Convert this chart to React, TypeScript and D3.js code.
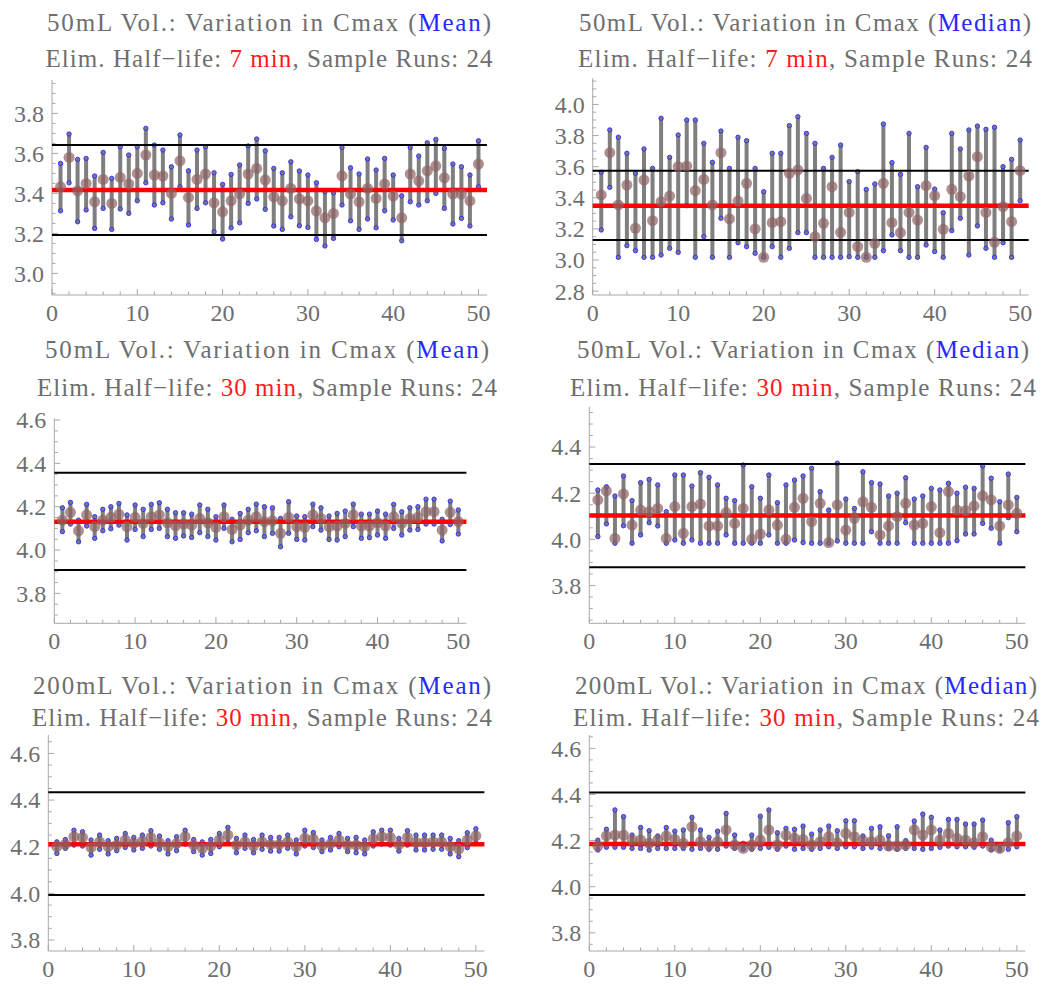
import React from "react";
import * as d3 from "d3";

// ---------- data ----------
const runIndex = d3.range(1, 51);
const X_TICK_LABELS = [0, 10, 20, 30, 40, 50];

// Panel 1: 50mL, 7 min, Mean
const p1Max = [3.55,3.697,3.57,3.575,3.487,3.605,3.475,3.633,3.592,3.633,3.725,3.642,3.617,3.533,3.692,3.513,3.617,3.633,3.503,3.445,3.495,3.542,3.637,3.672,3.613,3.525,3.503,3.558,3.512,3.492,3.453,3.408,3.403,3.63,3.528,3.497,3.572,3.517,3.575,3.492,3.388,3.63,3.587,3.653,3.67,3.625,3.547,3.533,3.492,3.663];
const p1Min = [3.313,3.453,3.258,3.317,3.225,3.325,3.22,3.322,3.3,3.363,3.453,3.342,3.353,3.272,3.433,3.242,3.325,3.353,3.208,3.172,3.228,3.253,3.35,3.372,3.32,3.237,3.22,3.283,3.238,3.23,3.17,3.137,3.175,3.342,3.263,3.22,3.272,3.228,3.313,3.267,3.163,3.358,3.342,3.363,3.4,3.325,3.247,3.275,3.237,3.433];
const p1Ctr = [3.433,3.58,3.413,3.45,3.358,3.47,3.35,3.48,3.447,3.5,3.592,3.492,3.487,3.4,3.563,3.38,3.47,3.497,3.353,3.308,3.363,3.397,3.497,3.525,3.467,3.383,3.363,3.425,3.372,3.363,3.312,3.278,3.3,3.488,3.397,3.358,3.425,3.375,3.447,3.387,3.278,3.497,3.463,3.513,3.537,3.478,3.397,3.397,3.363,3.547];
const p1Ref = [3.417, 3.642, 3.192];
const p1YTicks = [3.0, 3.2, 3.4, 3.6, 3.8];

// Panel 2: 50mL, 7 min, Median
const p2Max = [3.564,3.836,3.789,3.686,3.557,3.714,3.589,3.911,3.66,3.804,3.9,3.9,3.75,3.628,3.829,3.589,3.789,3.767,3.589,3.439,3.686,3.686,3.864,3.921,3.814,3.75,3.589,3.66,3.739,3.504,3.568,3.454,3.489,3.874,3.626,3.551,3.814,3.471,3.724,3.456,3.304,3.814,3.714,3.836,3.861,3.84,3.853,3.6,3.647,3.771];
const p2Min = [3.193,3.467,3.017,3.092,3.06,3.017,3.017,3.032,3.075,3.049,3.349,3.017,3.15,3.017,3.268,3.017,3.111,3.086,3.043,3.017,3.086,3.017,3.075,3.176,3.176,3.017,3.017,3.017,3.017,3.021,3.017,3.017,3.017,3.06,3.161,3.06,3.017,3.017,3.096,3.054,3.017,3.189,3.268,3.032,3.219,3.075,3.017,3.111,3.017,3.381];
const p2Ctr = [3.418,3.69,3.354,3.482,3.204,3.514,3.253,3.375,3.411,3.6,3.604,3.446,3.518,3.354,3.69,3.264,3.379,3.493,3.2,3.017,3.24,3.246,3.557,3.579,3.396,3.15,3.236,3.471,3.178,3.306,3.086,3.017,3.107,3.493,3.24,3.176,3.306,3.257,3.478,3.414,3.197,3.454,3.407,3.54,3.664,3.306,3.114,3.343,3.246,3.574];
const p2Ref = [3.349, 3.574, 3.129];
const p2YTicks = [2.8, 3.0, 3.2, 3.4, 3.6, 3.8, 4.0];

// Panel 3: 50mL, 30 min, Mean
const p3Max = [4.195,4.22,4.138,4.211,4.154,4.188,4.2,4.215,4.162,4.208,4.188,4.211,4.218,4.188,4.172,4.172,4.166,4.208,4.188,4.154,4.208,4.142,4.169,4.188,4.212,4.2,4.195,4.146,4.223,4.157,4.154,4.212,4.195,4.157,4.169,4.18,4.212,4.166,4.166,4.18,4.166,4.211,4.177,4.195,4.2,4.235,4.235,4.142,4.226,4.185];
const p3Min = [4.085,4.12,4.038,4.111,4.054,4.089,4.098,4.115,4.046,4.095,4.062,4.095,4.1,4.062,4.054,4.065,4.058,4.08,4.062,4.046,4.1,4.038,4.049,4.08,4.089,4.062,4.077,4.015,4.077,4.049,4.046,4.108,4.092,4.049,4.046,4.062,4.108,4.054,4.057,4.069,4.054,4.1,4.069,4.092,4.095,4.12,4.12,4.042,4.118,4.074];
const p3Ctr = [4.138,4.174,4.089,4.162,4.108,4.138,4.151,4.165,4.108,4.151,4.123,4.154,4.162,4.126,4.112,4.12,4.115,4.146,4.126,4.105,4.154,4.095,4.115,4.138,4.154,4.131,4.135,4.077,4.151,4.108,4.105,4.162,4.146,4.108,4.111,4.123,4.162,4.111,4.111,4.126,4.111,4.154,4.123,4.146,4.151,4.177,4.177,4.092,4.174,4.131];
const p3Ref = [4.131, 4.357, 3.908];
const p3YTicks = [3.8, 4.0, 4.2, 4.4, 4.6];

// Panel 4: 50mL, 30 min, Median
const p4Max = [4.214,4.228,4.188,4.275,4.168,4.246,4.26,4.236,4.12,4.279,4.279,4.231,4.289,4.269,4.236,4.178,4.168,4.322,4.228,4.178,4.279,4.159,4.236,4.257,4.275,4.308,4.207,4.127,4.33,4.175,4.134,4.293,4.246,4.24,4.188,4.2,4.267,4.175,4.188,4.221,4.214,4.243,4.2,4.226,4.221,4.318,4.265,4.163,4.283,4.182];
const p4Min = [4.012,4.067,3.983,4.059,3.983,4.019,4.072,4.058,3.983,3.997,3.983,3.997,3.983,3.983,3.983,4.019,3.983,3.983,3.983,3.983,4.019,3.983,3.983,3.997,3.986,3.983,3.983,3.983,3.993,3.983,3.983,3.983,4.033,3.983,3.983,3.983,4.072,3.983,3.983,3.983,3.983,3.983,3.994,4.023,4.023,4.069,4.048,3.983,4.094,4.033];
const p4Ctr = [4.171,4.21,4.004,4.197,4.062,4.127,4.12,4.134,4.004,4.142,4.026,4.142,4.153,4.058,4.058,4.116,4.069,4.134,4.0,4.023,4.127,4.062,4.0,4.139,4.178,4.077,4.156,3.986,4.149,4.04,4.091,4.163,4.139,4.019,4.058,4.098,4.156,4.062,4.069,4.142,4.029,4.207,4.127,4.124,4.145,4.188,4.171,4.058,4.149,4.113];
const p4Ref = [4.103, 4.327, 3.879];
const p4YTicks = [3.8, 4.0, 4.2, 4.4];

// Panel 5: 200mL, 30 min, Mean
const p5Max = [4.221,4.231,4.271,4.264,4.229,4.25,4.226,4.236,4.257,4.24,4.25,4.269,4.246,4.226,4.243,4.271,4.231,4.221,4.231,4.257,4.283,4.236,4.25,4.231,4.25,4.24,4.24,4.25,4.229,4.271,4.261,4.229,4.24,4.257,4.236,4.24,4.229,4.264,4.271,4.271,4.236,4.269,4.25,4.25,4.25,4.25,4.236,4.226,4.26,4.277];
const p5Min = [4.171,4.193,4.207,4.203,4.164,4.189,4.169,4.183,4.197,4.186,4.193,4.203,4.189,4.169,4.183,4.211,4.179,4.164,4.171,4.2,4.217,4.174,4.193,4.174,4.189,4.181,4.181,4.193,4.169,4.203,4.197,4.179,4.186,4.2,4.179,4.174,4.169,4.203,4.211,4.207,4.181,4.207,4.186,4.186,4.189,4.189,4.169,4.157,4.196,4.217];
const p5Ctr = [4.2,4.211,4.243,4.24,4.197,4.221,4.2,4.207,4.229,4.214,4.224,4.24,4.217,4.2,4.214,4.243,4.207,4.193,4.203,4.229,4.25,4.207,4.221,4.203,4.221,4.21,4.21,4.221,4.2,4.236,4.233,4.204,4.213,4.229,4.207,4.207,4.2,4.234,4.243,4.24,4.209,4.24,4.219,4.219,4.221,4.221,4.201,4.19,4.229,4.247];
const p5Ref = [4.211, 4.434, 3.993];
const p5YTicks = [3.8, 4.0, 4.2, 4.4, 4.6];

// Panel 6: 200mL, 30 min, Median
const p6Max = [4.202,4.249,4.333,4.304,4.224,4.257,4.243,4.22,4.257,4.241,4.246,4.301,4.246,4.214,4.241,4.318,4.224,4.188,4.224,4.306,4.333,4.234,4.253,4.249,4.263,4.228,4.246,4.263,4.243,4.286,4.286,4.22,4.253,4.26,4.221,4.26,4.2,4.285,4.315,4.301,4.246,4.292,4.292,4.272,4.272,4.289,4.202,4.181,4.278,4.304];
const p6Min = [4.159,4.171,4.171,4.171,4.166,4.166,4.159,4.166,4.166,4.166,4.166,4.162,4.166,4.162,4.162,4.176,4.166,4.162,4.162,4.166,4.171,4.162,4.176,4.162,4.166,4.162,4.166,4.173,4.166,4.173,4.173,4.166,4.171,4.166,4.166,4.162,4.166,4.166,4.162,4.166,4.171,4.176,4.173,4.173,4.171,4.176,4.159,4.159,4.162,4.173];
const p6Ctr = [4.176,4.22,4.224,4.224,4.202,4.202,4.188,4.202,4.22,4.205,4.188,4.26,4.195,4.181,4.195,4.246,4.181,4.166,4.181,4.202,4.246,4.181,4.224,4.21,4.205,4.181,4.195,4.217,4.191,4.231,4.217,4.2,4.195,4.202,4.176,4.176,4.181,4.246,4.224,4.246,4.202,4.231,4.21,4.202,4.191,4.217,4.173,4.166,4.191,4.22];
const p6Ref = [4.185, 4.409, 3.964];
const p6YTicks = [3.8, 4.0, 4.2, 4.4, 4.6];

// ---------- layout ----------
const FONT = "Liberation Serif, DejaVu Serif, Noto Serif, Times New Roman, Times, serif";
const TEXT_GRAY = "#6e6e6e";
const AXIS_GRAY = "#a8a8a8";

type PanelCfg = {
  left: number; right: number; top: number; bottom: number;
  yDom: [number, number]; cx: number; t1: number; t2: number;
  vol: string; stat: string; hl: string; t1Len: number; t2Len: number;
  maxV: number[]; minV: number[]; ctr: number[]; refs: number[]; yTicks: number[];
};

const panels: PanelCfg[] = [
  { left: 52, right: 487, top: 80, bottom: 295, yDom: [2.892, 3.967], cx: 269, t1: 31, t2: 67,
    vol: "50", stat: "Mean", hl: "7", t1Len: 444, t2Len: 447,
    maxV: p1Max, minV: p1Min, ctr: p1Ctr, refs: p1Ref, yTicks: p1YTicks },
  { left: 592.7, right: 1028.7, top: 78.3, bottom: 295, yDom: [2.775, 4.168], cx: 805, t1: 31, t2: 67,
    vol: "50", stat: "Median", hl: "7", t1Len: 452, t2Len: 454,
    maxV: p2Max, minV: p2Min, ctr: p2Ctr, refs: p2Ref, yTicks: p2YTicks },
  { left: 54.3, right: 466.4, top: 418.3, bottom: 623.3, yDom: [3.662, 4.608], cx: 267, t1: 358, t2: 396,
    vol: "50", stat: "Mean", hl: "30", t1Len: 444, t2Len: 460,
    maxV: p3Max, minV: p3Min, ctr: p3Ctr, refs: p3Ref, yTicks: p3YTicks },
  { left: 589.3, right: 1025.4, top: 406.7, bottom: 623.3, yDom: [3.636, 4.575], cx: 803, t1: 358, t2: 396,
    vol: "50", stat: "Median", hl: "30", t1Len: 452, t2Len: 466,
    maxV: p4Max, minV: p4Min, ctr: p4Ctr, refs: p4Ref, yTicks: p4YTicks },
  { left: 48.3, right: 484.4, top: 735, bottom: 951, yDom: [3.753, 4.679], cx: 262, t1: 694, t2: 726,
    vol: "200", stat: "Mean", hl: "30", t1Len: 458, t2Len: 460,
    maxV: p5Max, minV: p5Min, ctr: p5Ctr, refs: p5Ref, yTicks: p5YTicks },
  { left: 589.3, right: 1025.4, top: 735, bottom: 951, yDom: [3.721, 4.658], cx: 806, t1: 694, t2: 726,
    vol: "200", stat: "Median", hl: "30", t1Len: 462, t2Len: 466,
    maxV: p6Max, minV: p6Min, ctr: p6Ctr, refs: p6Ref, yTicks: p6YTicks },
];

function Panel({ p }: { p: PanelCfg }) {
  const x = d3.scaleLinear().domain([0, 51]).range([p.left, p.right]);
  const y = d3.scaleLinear().domain(p.yDom).range([p.bottom, p.top]);
  const minorY = d3.range(Math.ceil(p.yDom[0] / 0.05), Math.floor(p.yDom[1] / 0.05) + 1).map((k) => k * 0.05);
  const minorX = d3.range(0, 52, 2);
  const isMajorY = (v: number) => p.yTicks.some((t) => Math.abs(t - v) < 1e-6);
  return (
    <g>
      {/* titles */}
      <text x={p.cx} y={p.t1} textAnchor="middle" fontFamily={FONT} fontSize={25} fill={TEXT_GRAY}
        textLength={p.t1Len} lengthAdjust="spacing">
        {`${p.vol}mL Vol.: Variation in Cmax (`}
        <tspan fill="#2828ff">{p.stat}</tspan>
        {")"}
      </text>
      <text x={p.cx} y={p.t2} textAnchor="middle" fontFamily={FONT} fontSize={25} fill={TEXT_GRAY}
        textLength={p.t2Len} lengthAdjust="spacing">
        {"Elim. Half\u2212life: "}
        <tspan fill="#ff1a1a">{`${p.hl} min`}</tspan>
        {", Sample Runs: 24"}
      </text>

      {/* axes */}
      <line x1={p.left} x2={p.left} y1={p.top} y2={p.bottom} stroke={AXIS_GRAY} strokeWidth={1} />
      <line x1={p.left} x2={p.right} y1={p.bottom} y2={p.bottom} stroke={AXIS_GRAY} strokeWidth={1} />
      {minorY.map((v, i) => (
        <line key={"yt" + i} x1={p.left} x2={p.left + (isMajorY(v) ? 6 : 3.5)} y1={y(v)} y2={y(v)}
          stroke={AXIS_GRAY} strokeWidth={1} />
      ))}
      {minorX.map((v, i) => (
        <line key={"xt" + i} x1={x(v)} x2={x(v)} y1={p.bottom} y2={p.bottom - (v % 10 === 0 ? 6 : 3.5)}
          stroke={AXIS_GRAY} strokeWidth={1} />
      ))}
      {p.yTicks.map((v, i) => (
        <text key={"yl" + i} x={p.left - 8} y={y(v)} dy="0.35em" textAnchor="end" fontFamily={FONT}
          fontSize={24} fill={TEXT_GRAY}>{v.toFixed(1)}</text>
      ))}
      {X_TICK_LABELS.map((v, i) => (
        <text key={"xl" + i} x={x(v)} y={p.bottom + 26} textAnchor="middle" fontFamily={FONT}
          fontSize={24} fill={TEXT_GRAY}>{v}</text>
      ))}

      {/* range bars */}
      {runIndex.map((r, i) => (
        <line key={"b" + i} x1={x(r)} x2={x(r)} y1={y(p.minV[i])} y2={y(p.maxV[i])}
          stroke="#7f7f7f" strokeWidth={4} />
      ))}
      {runIndex.map((r, i) => (
        <g key={"e" + i}>
          <circle cx={x(r)} cy={y(p.maxV[i])} r={2.2} fill="#77778a" stroke="#2b2bff" strokeWidth={0.9} />
          <circle cx={x(r)} cy={y(p.minV[i])} r={2.2} fill="#77778a" stroke="#2b2bff" strokeWidth={0.9} />
        </g>
      ))}

      {/* reference lines */}
      <line x1={p.left} x2={p.right} y1={y(p.refs[1])} y2={y(p.refs[1])} stroke="#000" strokeWidth={2} />
      <line x1={p.left} x2={p.right} y1={y(p.refs[2])} y2={y(p.refs[2])} stroke="#000" strokeWidth={2} />
      <line x1={p.left} x2={p.right} y1={y(p.refs[0])} y2={y(p.refs[0])} stroke="#ff0000" strokeWidth={4.5} />

      {/* center statistic */}
      {runIndex.map((r, i) => (
        <circle key={"c" + i} cx={x(r)} cy={y(p.ctr[i])} r={5.5} fill="#8e6262" fillOpacity={0.7} />
      ))}
    </g>
  );
}

export default function App() {
  return (
    <svg width={1044} height={985} style={{ position: "absolute", left: 0, top: 0, background: "#fff" }}>
      <rect width={1044} height={985} fill="#fff" />
      {panels.map((p, i) => <Panel key={i} p={p} />)}
    </svg>
  );
}
